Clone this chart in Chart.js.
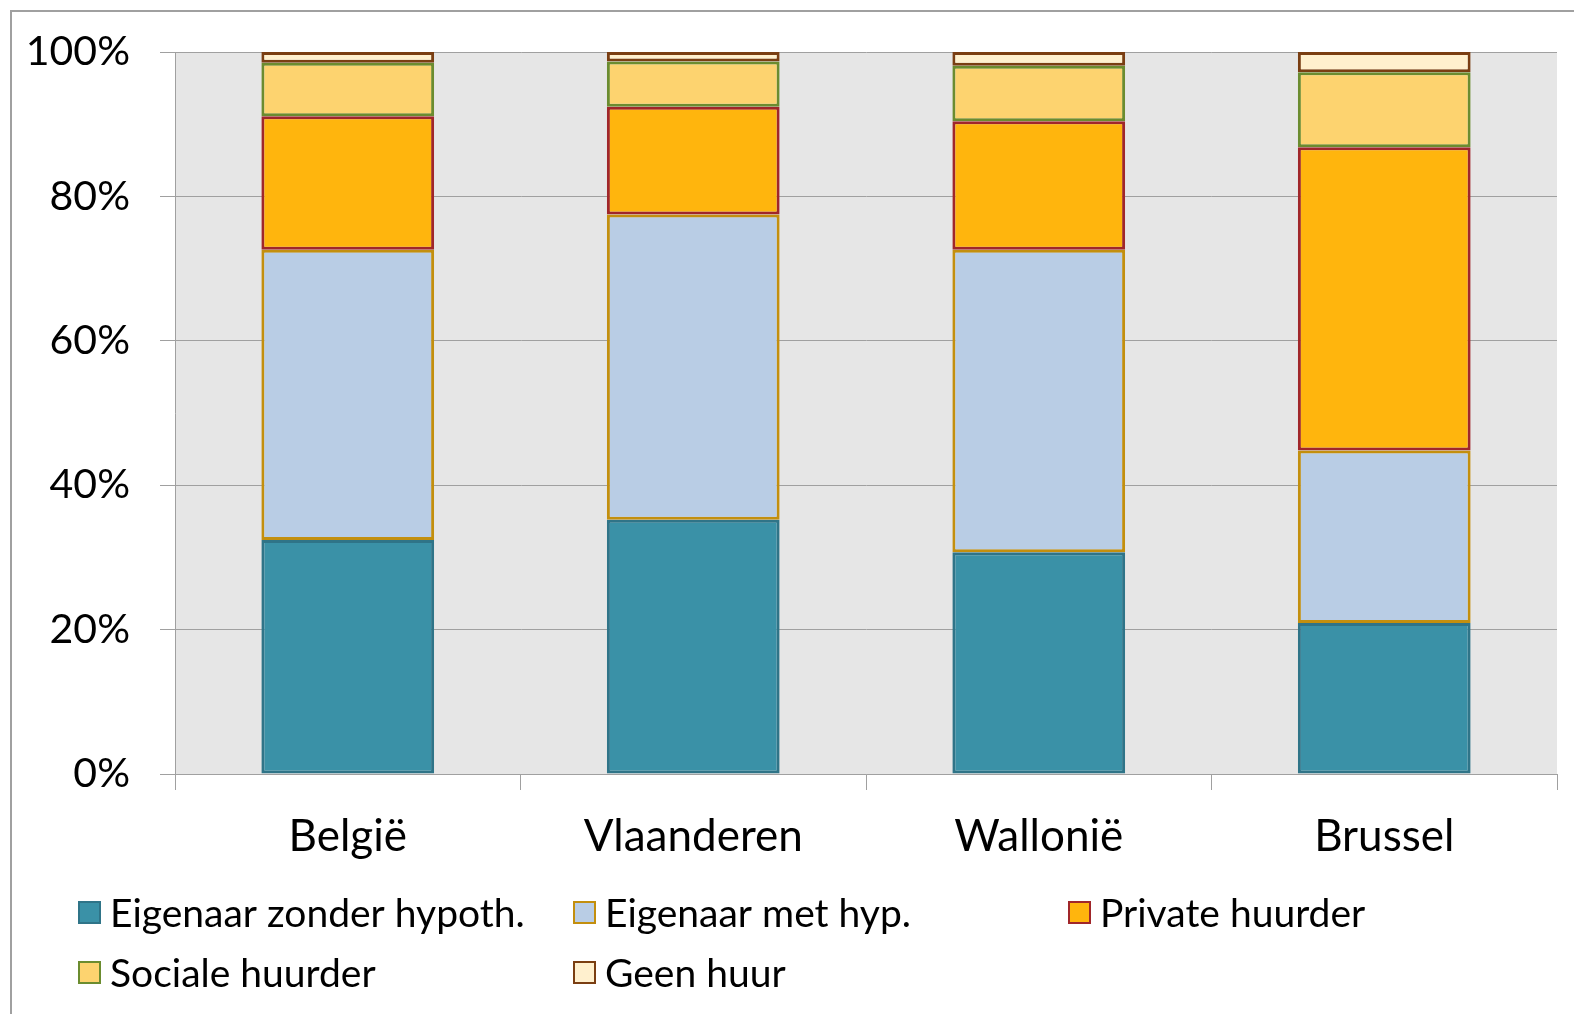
<!DOCTYPE html>
<html>
<head>
<meta charset="utf-8">
<script src="https://cdn.jsdelivr.net/npm/chart.js@4/dist/chart.umd.min.js"></script>
<style>
  html, body { margin: 0; padding: 0; background: #fff; }
  #wrap { width: 1574px; height: 1014px; }
</style>
</head>
<body>
<div id="wrap"><canvas id="chart" width="1574" height="1014"></canvas></div>
<script>
var categories = ['België', 'Vlaanderen', 'Wallonië', 'Brussel']
var seriesNames = ['Eigenaar zonder hypoth.', 'Eigenaar met hyp.', 'Private huurder', 'Sociale huurder', 'Geen huur']

var eigenaarZonder = [32.4, 35.2, 30.7, 20.9]
var eigenaarMet = [40.2, 42.3, 41.9, 23.9]
var privateHuurder = [18.5, 14.9, 17.8, 42.0]
var socialeHuurder = [7.4, 6.3, 7.7, 10.4]
var geenHuur = [1.5, 1.3, 1.9, 2.8]

var yTicks = [0, 20, 40, 60, 80, 100]

var fills = ['#3A91A7', '#B9CDE5', '#FFB50D', '#FDD36F', '#FFF0CE']
var borders = ['#2F7488', '#C38F0E', '#A0262A', '#6B8C2F', '#7A3E12']
var FONT = 'Lato, "Open Sans", sans-serif'

var values = [eigenaarZonder, eigenaarMet, privateHuurder, socialeHuurder, geenHuur]

var datasets = values.map(function (v, i) {
  return {
    label: seriesNames[i],
    data: v,
    backgroundColor: fills[i],
    borderColor: borders[i],
    borderWidth: 3,
    borderSkipped: false,
    categoryPercentage: 1,
    barPercentage: 0.5
  }
})

// grey plot background + outer frame
var backdrop = {
  id: 'backdrop',
  beforeDraw: function (chart) {
    var c = chart.ctx
    var a = chart.chartArea
    c.save()
    c.fillStyle = '#E6E6E6'
    c.fillRect(a.left, a.top, a.right - a.left, a.bottom - a.top)
    c.strokeStyle = '#A0A0A0'
    c.lineWidth = 2
    c.beginPath()
    c.moveTo(11, 1014)
    c.lineTo(11, 11)
    c.lineTo(1574, 11)
    c.stroke()
    c.restore()
  }
}

// legend in three fixed columns like the original
var gridLegend = {
  id: 'gridLegend',
  afterDraw: function (chart) {
    var c = chart.ctx
    var cols = [78, 573, 1068]
    var rows = [913, 973]
    c.save()
    c.font = '39px ' + FONT
    c.textBaseline = 'middle'
    chart.data.datasets.forEach(function (ds, i) {
      var x = cols[i % 3]
      var y = rows[Math.floor(i / 3)]
      c.fillStyle = ds.backgroundColor
      c.fillRect(x, y - 12, 23, 23)
      c.strokeStyle = ds.borderColor
      c.lineWidth = 2
      c.strokeRect(x + 1, y - 11, 21, 21)
      c.fillStyle = '#000'
      c.fillText(ds.label, x + 32, y + 1)
    })
    c.restore()
  }
}

new Chart(document.getElementById('chart'), {
  type: 'bar',
  data: { labels: categories, datasets: datasets },
  plugins: [backdrop, gridLegend],
  options: {
    responsive: false,
    animation: false,
    layout: { padding: { top: 52, right: 17, left: 0, bottom: 0 } },
    plugins: {
      legend: { display: false },
      tooltip: { enabled: false }
    },
    scales: {
      x: {
        stacked: true,
        offset: true,
        afterFit: function (s) { s.height = 240 },
        grid: {
          offset: true,
          drawOnChartArea: false,
          drawTicks: true,
          tickLength: 16,
          color: '#A0A0A0'
        },
        border: { color: '#A0A0A0', width: 1 },
        ticks: {
          color: '#000',
          padding: 20,
          font: { family: FONT, size: 44 }
        }
      },
      y: {
        stacked: true,
        min: 0,
        max: 100,
        afterFit: function (s) {
          s.width = 175
          s.paddingTop = 0
          s.paddingBottom = 0
        },
        afterBuildTicks: function (s) {
          s.ticks = yTicks.map(function (v) { return { value: v } })
        },
        grid: {
          color: '#A0A0A0',
          tickLength: 15,
          drawTicks: true
        },
        border: { color: '#A0A0A0', width: 1 },
        ticks: {
          color: '#000',
          padding: 30,
          font: { family: FONT, size: 41 },
          callback: function (v) { return v + '%' }
        }
      }
    }
  }
})
</script>
</body>
</html>
